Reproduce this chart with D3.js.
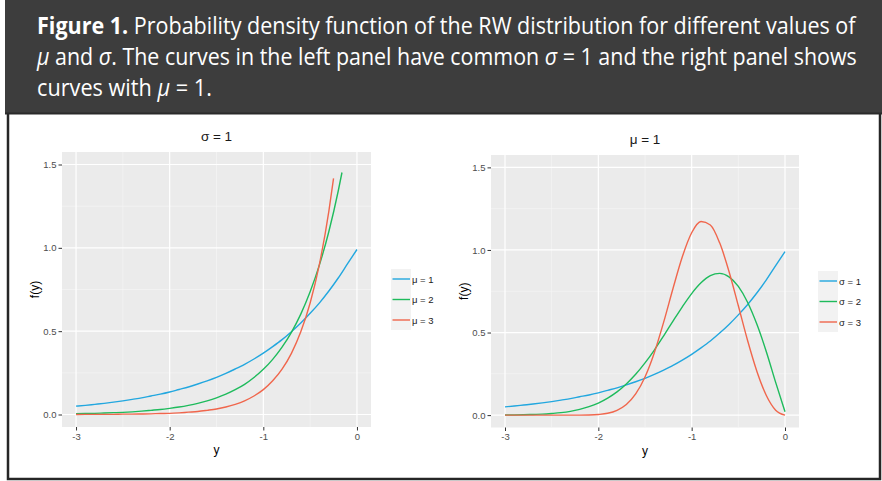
<!DOCTYPE html>
<html>
<head>
<meta charset="utf-8">
<script src="https://cdn.jsdelivr.net/npm/d3@7"></script>
<style>
body { margin: 0; background: #ffffff; }
svg { display: block; }
</style>
</head>
<body>
<div id="chart"></div>
<script>
const w = 882;
const h = 481;

const yGrid = [-3.0, -2.9, -2.8, -2.7, -2.6, -2.5, -2.4, -2.3, -2.2, -2.1,
               -2.0, -1.9, -1.8, -1.7, -1.6, -1.5, -1.4, -1.3, -1.2, -1.1,
               -1.0, -0.9, -0.8, -0.7, -0.6, -0.5, -0.4, -0.3, -0.2, -0.1, 0.0];

// left panel, sigma = 1
const leftMu1 = [0.050, 0.055, 0.061, 0.067, 0.074, 0.082, 0.091, 0.100, 0.111, 0.122,
                 0.135, 0.150, 0.165, 0.183, 0.202, 0.223, 0.247, 0.273, 0.301, 0.333,
                 0.368, 0.407, 0.449, 0.497, 0.549, 0.607, 0.670, 0.741, 0.819, 0.905, 0.990];
const leftMu2 = [0.005, 0.006, 0.007, 0.009, 0.011, 0.013, 0.016, 0.020, 0.025, 0.030,
                 0.037, 0.045, 0.055, 0.067, 0.082, 0.100, 0.122, 0.149, 0.181, 0.222,
                 0.271, 0.331, 0.404, 0.493, 0.602, 0.736, 0.899, 1.098, 1.341, 1.452];
const leftMu3 = [0.000, 0.001, 0.001, 0.001, 0.001, 0.002, 0.002, 0.003, 0.004, 0.006,
                 0.007, 0.010, 0.014, 0.018, 0.025, 0.033, 0.045, 0.061, 0.082, 0.111,
                 0.149, 0.202, 0.272, 0.367, 0.496, 0.669, 0.904, 1.220, 1.417];
// the two steep curves stop early
const leftMu2X = yGrid.slice(0, 29).concat([-0.16]);
const leftMu3X = yGrid.slice(0, 28).concat([-0.25]);

// right panel, mu = 1
const rightSig1 = leftMu1;
const rightSig2 = [0.001, 0.001, 0.002, 0.004, 0.006, 0.010, 0.015, 0.023, 0.035, 0.051,
                   0.073, 0.103, 0.141, 0.189, 0.247, 0.316, 0.394, 0.480, 0.569, 0.656,
                   0.736, 0.801, 0.844, 0.858, 0.837, 0.779, 0.682, 0.548, 0.384, 0.198, 0.020];
const rightSig3 = [0.000, 0.000, 0.000, 0.000, 0.000, 0.000, 0.000, 0.000, 0.000, 0.001,
                   0.004, 0.011, 0.029, 0.064, 0.128, 0.231, 0.378, 0.563, 0.767, 0.959,
                   1.104, 1.172, 1.151, 1.043, 0.870, 0.662, 0.450, 0.263, 0.119, 0.030, 0.000];

const leftLabels = ["\u03bc = 1", "\u03bc = 2", "\u03bc = 3"];
const rightLabels = ["\u03c3 = 1", "\u03c3 = 2", "\u03c3 = 3"];

const xTicks = [-3, -2, -1, 0];
const xMinor = [-2.5, -1.5, -0.5];
const yTicks = [0, 0.5, 1, 1.5];
const yMinor = [0.25, 0.75, 1.25];

const colors = ["#22a7df", "#1ebb5c", "#f0664c"];

let svg = d3.select("div#chart").append("svg")
    .attr("width", w)
    .attr("height", h)
    .style("background-color", "#ffffff");

// caption box
svg.append("rect")
    .attr("x", 8).attr("y", 1).attr("width", 872).attr("height", 478)
    .attr("fill", "#ffffff").attr("stroke", "#262626").attr("stroke-width", 2.5);
svg.append("rect")
    .attr("x", 5).attr("y", 0).attr("width", 877).attr("height", 113)
    .attr("fill", "#3d3d3d");
svg.append("line")
    .attr("x1", 5).attr("x2", 882).attr("y1", 113.5).attr("y2", 113.5)
    .attr("stroke", "#2a2a2a").attr("stroke-width", 2);

const capFont = "'Open Sans', 'Noto Sans', sans-serif";

// caption lines: parts are [text, style], squeezed to the width seen in the figure
const captionLine = (parts, y, width) => {
    let g = svg.append("g");
    let t = g.append("text")
        .attr("x", 0).attr("y", 0)
        .style("font-family", capFont).style("font-size", "23px").attr("fill", "#ffffff");
    parts.forEach(p => {
        let s = t.append("tspan").text(p[0]);
        if (p[1] === "b") s.style("font-weight", "bold");
        if (p[1] === "i") s.style("font-style", "italic");
    });
    let natural = t.node().getComputedTextLength();
    g.attr("transform", "translate(37," + y + ") scale(" + (width / natural) + ",1)");
};

captionLine([["Figure 1.", "b"], [" Probability density function of the RW distribution for different values of", ""]], 34, 819);
captionLine([["\u03bc", "i"], [" and ", ""], ["\u03c3", "i"], [". The curves in the left panel have common ", ""],
             ["\u03c3", "i"], [" = 1 and the right panel shows", ""]], 65, 820);
captionLine([["curves with ", ""], ["\u03bc", "i"], [" = 1.", ""]], 96, 175);

const plotFont = "'Liberation Sans', Arial, sans-serif";

const drawPanel = (p) => {
    let g = svg.append("g");
    let x = d3.scaleLinear().domain([-3.15, 0.15]).range([p.left, p.right]);
    let y = d3.scaleLinear().domain([-0.075, 1.575]).range([p.bottom, p.top]);

    g.append("rect")
        .attr("x", p.left).attr("y", p.top)
        .attr("width", p.right - p.left).attr("height", p.bottom - p.top)
        .attr("fill", "#ebebeb");

    g.selectAll("line.xminor").data(xMinor).join("line")
        .attr("x1", d => x(d)).attr("x2", d => x(d))
        .attr("y1", p.top).attr("y2", p.bottom)
        .attr("stroke", "#f7f7f7").attr("stroke-width", 0.6);
    g.selectAll("line.yminor").data(yMinor).join("line")
        .attr("y1", d => y(d)).attr("y2", d => y(d))
        .attr("x1", p.left).attr("x2", p.right)
        .attr("stroke", "#f7f7f7").attr("stroke-width", 0.6);
    g.selectAll("line.xmajor").data(xTicks).join("line")
        .attr("x1", d => x(d)).attr("x2", d => x(d))
        .attr("y1", p.top).attr("y2", p.bottom)
        .attr("stroke", "#ffffff").attr("stroke-width", 1.2);
    g.selectAll("line.ymajor").data(yTicks).join("line")
        .attr("y1", d => y(d)).attr("y2", d => y(d))
        .attr("x1", p.left).attr("x2", p.right)
        .attr("stroke", "#ffffff").attr("stroke-width", 1.2);

    let line = d3.line()
        .x(d => x(d[0]))
        .y(d => y(d[1]))
        .curve(d3.curveMonotoneX);

    p.series.forEach((s, i) => {
        g.append("path")
            .datum(d3.zip(s.xs, s.ys))
            .attr("d", line)
            .attr("fill", "none")
            .attr("stroke", colors[i])
            .attr("stroke-width", 1.4);
    });

    // axes
    let xAxis = g.append("g")
        .attr("transform", "translate(0," + p.bottom + ")")
        .call(d3.axisBottom(x).tickValues(xTicks).tickSize(3.5).tickPadding(2.5).tickFormat(d3.format("d")));
    let yAxis = g.append("g")
        .attr("transform", "translate(" + p.left + ",0)")
        .call(d3.axisLeft(y).tickValues(yTicks).tickSize(3.5).tickPadding(2).tickFormat(d3.format(".1f")));
    [xAxis, yAxis].forEach(a => {
        a.select(".domain").remove();
        a.selectAll(".tick line").attr("stroke", "#333333").attr("stroke-width", 1);
        a.selectAll(".tick text")
            .style("font-family", plotFont).style("font-size", "9.5px").attr("fill", "#4d4d4d");
    });
    xAxis.selectAll(".tick text").text(d => d === 0 ? "0" : "-" + Math.abs(d));

    let cx = (p.left + p.right) / 2;
    g.append("text")
        .attr("x", cx).attr("y", p.top - 11)
        .attr("text-anchor", "middle")
        .style("font-family", plotFont).style("font-size", "13.5px").attr("fill", "#1a1a1a")
        .text(p.title);
    g.append("text")
        .attr("x", cx).attr("y", p.bottom + 27)
        .attr("text-anchor", "middle")
        .style("font-family", plotFont).style("font-size", "12px").attr("fill", "#000000")
        .text("y");
    g.append("text")
        .attr("transform", "translate(" + (p.left - 23) + "," + ((p.top + p.bottom) / 2) + ") rotate(-90)")
        .attr("text-anchor", "middle")
        .style("font-family", plotFont).style("font-size", "12px").attr("fill", "#000000")
        .text("f(y)");

    // legend
    let lg = g.append("g").attr("transform", "translate(" + p.legendX + "," + p.legendY + ")");
    lg.append("rect")
        .attr("x", 0).attr("y", 0).attr("width", 20).attr("height", 61)
        .attr("fill", "#f2f2f2");
    p.labels.forEach((lab, i) => {
        let ky = 10 + i * 20.5;
        lg.append("line")
            .attr("x1", 1.5).attr("x2", 19)
            .attr("y1", ky).attr("y2", ky)
            .attr("stroke", colors[i]).attr("stroke-width", 1.4);
        lg.append("text")
            .attr("x", 21).attr("y", ky + 3.5)
            .style("font-family", plotFont).style("font-size", "9.5px").attr("fill", "#1a1a1a")
            .text(lab);
    });
};

drawPanel({
    left: 62, right: 371, top: 152, bottom: 427,
    title: "\u03c3 = 1",
    series: [
        { xs: yGrid, ys: leftMu1 },
        { xs: leftMu2X, ys: leftMu2 },
        { xs: leftMu3X, ys: leftMu3 }
    ],
    labels: leftLabels,
    legendX: 391, legendY: 269
});

drawPanel({
    left: 491, right: 799, top: 155, bottom: 427.5,
    title: "\u03bc = 1",
    series: [
        { xs: yGrid, ys: rightSig1 },
        { xs: yGrid, ys: rightSig2 },
        { xs: yGrid, ys: rightSig3 }
    ],
    labels: rightLabels,
    legendX: 818, legendY: 271
});
</script>
</body>
</html>
